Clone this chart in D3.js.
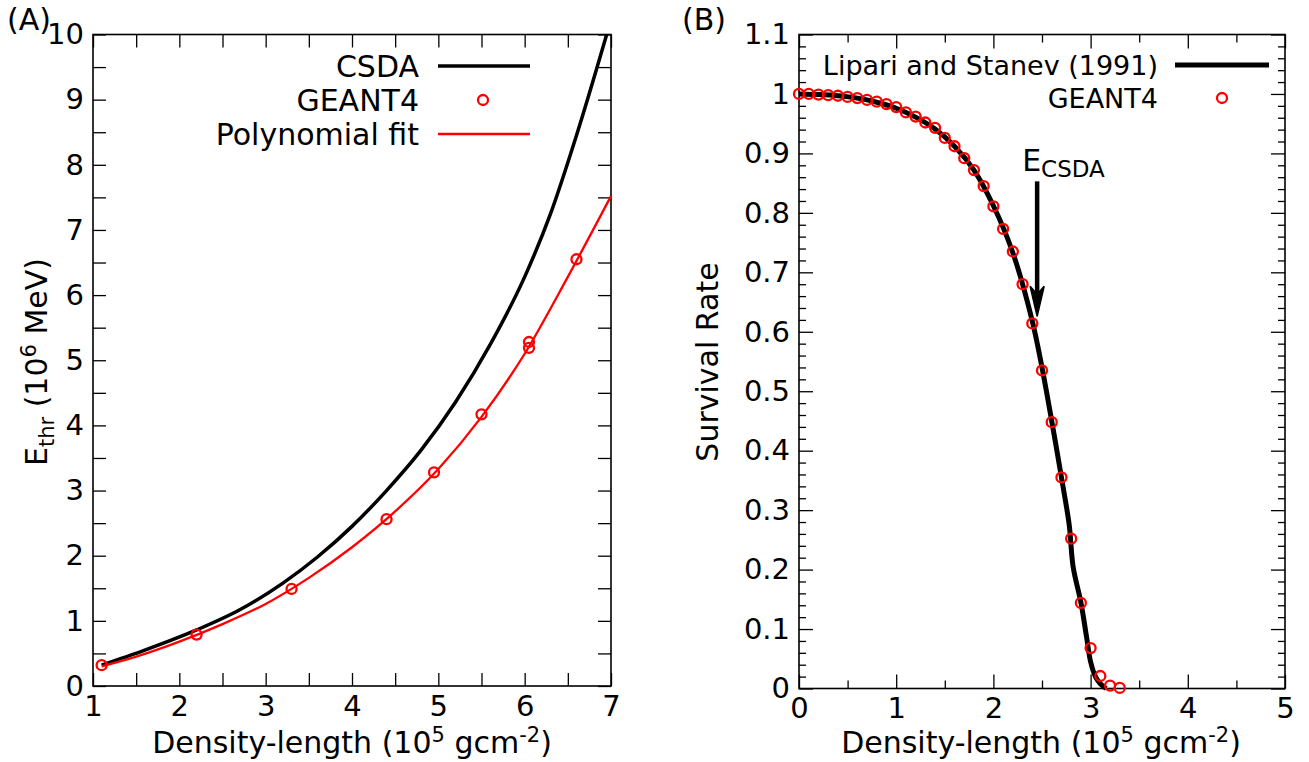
<!DOCTYPE html>
<html>
<head>
<meta charset="utf-8">
<script src="https://cdn.jsdelivr.net/npm/d3@7"></script>
<style>
  body { margin: 0; background: #fff; }
  text { font-family: "DejaVu Sans", sans-serif; fill: #000; }
</style>
</head>
<body>
<div id="chart"></div>
<script>
// ---- panel A data ----
const csdaX = [1.1, 1.6, 2.2, 2.7, 3.2, 3.6, 4.0, 4.4, 4.8, 5.2, 5.6, 6.0, 6.3, 6.6, 6.95];
const csdaY = [0.32, 0.55, 0.86, 1.17, 1.58, 1.98, 2.45, 3.0, 3.62, 4.36, 5.24, 6.28, 7.25, 8.45, 10.0];
const fitX = [1.1, 1.5, 2.0, 2.5, 3.0, 3.5, 4.0, 4.5, 5.0, 5.5, 6.0, 6.5, 7.0];
const fitY = [0.30, 0.45, 0.68, 0.95, 1.26, 1.66, 2.13, 2.68, 3.33, 4.13, 5.10, 6.28, 7.52];
const geantAX = [1.1, 2.2, 3.3, 4.4, 4.95, 5.5, 6.05, 6.05, 6.6];
const geantAY = [0.32, 0.79, 1.49, 2.56, 3.28, 4.17, 5.28, 5.19, 6.55];

// ---- panel B data ----
const lipariX = [0, 0.2, 0.4, 0.6, 0.8, 1.0, 1.2, 1.4, 1.6, 1.8, 2.0, 2.2, 2.4, 2.5, 2.6, 2.7, 2.78, 2.82, 2.9, 2.96, 3.0, 3.05, 3.1, 3.16];
const lipariY = [1.0, 0.999, 0.997, 0.993, 0.986, 0.976, 0.961, 0.941, 0.912, 0.872, 0.812, 0.733, 0.618, 0.540, 0.450, 0.355, 0.275, 0.205, 0.145, 0.085, 0.045, 0.020, 0.008, 0.0];
const geantBX = d3.range(34).map(i => +(i * 0.1).toFixed(1));
const geantBY = [1.000, 1.000, 0.999, 0.998, 0.997, 0.995, 0.993, 0.990, 0.987, 0.983,
                 0.978, 0.969, 0.962, 0.952, 0.943, 0.926, 0.912, 0.892, 0.872, 0.845,
                 0.811, 0.773, 0.735, 0.680, 0.614, 0.535, 0.448, 0.355, 0.252, 0.144,
                 0.068, 0.021, 0.005, 0.001];
const arrowX = 2.45, arrowFrom = 0.853, arrowTo = 0.626;

const svg = d3.select("#chart").append("svg")
    .attr("width", 1309)
    .attr("height", 762);

const tickFont = "29px", labelFont = "30px", supFont = "21px";

function frame(g, x, y, opt) {
    const [x0, x1] = x.range(), [y0, y1] = y.range();
    const w = x1 - x0, h = y0 - y1;
    // ticks on all four sides, pointing inward
    function side(axisFn, vals, size, fmt, tr) {
        const a = g.append("g").attr("transform", tr)
            .call(axisFn.tickValues(vals).tickSize(-size).tickPadding(opt.pad).tickFormat(fmt));
        a.select(".domain").remove();
        a.selectAll("line").attr("stroke", "#000").attr("stroke-width", 1.3);
        a.selectAll("text").style("font-size", tickFont).attr("fill", "#000");
        a.attr("font-family", null);
        return a;
    }
    const none = () => "";
    side(d3.axisBottom(x), opt.xMajor, opt.xMajorLen, opt.xFmt, `translate(0,${y0})`);
    side(d3.axisBottom(x), opt.xMinor, opt.xMinorLen, none, `translate(0,${y0})`);
    side(d3.axisTop(x), opt.xMajor, opt.xMajorLen, none, `translate(0,${y1})`);
    side(d3.axisTop(x), opt.xMinor, opt.xMinorLen, none, `translate(0,${y1})`);
    side(d3.axisLeft(y), opt.yMajor, opt.yMajorLen, opt.yFmt, `translate(${x0},0)`);
    side(d3.axisLeft(y), opt.yMinor, opt.yMinorLen, none, `translate(${x0},0)`);
    side(d3.axisRight(y), opt.yMajor, opt.yMajorLen, none, `translate(${x1},0)`);
    side(d3.axisRight(y), opt.yMinor, opt.yMinorLen, none, `translate(${x1},0)`);
    g.append("rect")
        .attr("x", x0).attr("y", y1).attr("width", w).attr("height", h)
        .attr("fill", "none").attr("stroke", "#000").attr("stroke-width", 1.6);
}

function xTitle(g, cx, yPos) {
    const t = g.append("text").attr("x", cx).attr("y", yPos)
        .attr("text-anchor", "middle").style("font-size", labelFont);
    t.append("tspan").text("Density-length (10");
    t.append("tspan").attr("dy", -11).style("font-size", supFont).text("5");
    t.append("tspan").attr("dy", 11).text(" gcm");
    t.append("tspan").attr("dy", -11).style("font-size", supFont).text("-2");
    t.append("tspan").attr("dy", 11).text(")");
}

// ================= Panel A =================
const xA = d3.scaleLinear().domain([1, 7]).range([93, 611]);
const yA = d3.scaleLinear().domain([0, 10]).range([686, 34.5]);
const gA = svg.append("g");

frame(gA, xA, yA, {
    xMajor: d3.range(1, 7.01, 1), xMinor: d3.range(1.5, 7, 1), xMajorLen: 13, xMinorLen: 13,
    yMajor: d3.range(0, 10.01, 1), yMinor: d3.range(0.5, 10, 1), yMajorLen: 13, yMinorLen: 13,
    xFmt: d3.format("d"), yFmt: d3.format("d"), pad: 9
});

const lineA = d3.line().x(d => xA(d[0])).y(d => yA(d[1])).curve(d3.curveMonotoneX);

gA.append("path")
    .datum(d3.zip(csdaX, csdaY))
    .attr("fill", "none").attr("stroke", "#000").attr("stroke-width", 3.5)
    .attr("d", lineA);

gA.append("path")
    .datum(d3.zip(fitX, fitY))
    .attr("fill", "none").attr("stroke", "#ff0000").attr("stroke-width", 2.3)
    .attr("d", lineA);

gA.selectAll("circle.geant")
    .data(d3.zip(geantAX, geantAY))
    .join("circle")
    .attr("class", "geant")
    .attr("cx", d => xA(d[0])).attr("cy", d => yA(d[1]))
    .attr("r", 5).attr("fill", "none").attr("stroke", "#ff0000").attr("stroke-width", 2.3);

// legend A
const legA = [
    {label: "CSDA", y: 66, kind: "line", color: "#000", w: 3.5},
    {label: "GEANT4", y: 100, kind: "dot", color: "#ff0000"},
    {label: "Polynomial fit", y: 134, kind: "line", color: "#ff0000", w: 2.3}
];
legA.forEach(d => {
    gA.append("text").attr("x", 419).attr("y", d.y).attr("dy", "0.36em")
        .attr("text-anchor", "end").style("font-size", labelFont).text(d.label);
    if (d.kind === "line") {
        gA.append("line").attr("x1", 438).attr("x2", 530).attr("y1", d.y).attr("y2", d.y)
            .attr("stroke", d.color).attr("stroke-width", d.w);
    } else {
        gA.append("circle").attr("cx", 483).attr("cy", d.y).attr("r", 5)
            .attr("fill", "none").attr("stroke", d.color).attr("stroke-width", 2.3);
    }
});

xTitle(gA, 352, 753);

const yTitleA = gA.append("text")
    .attr("transform", "translate(47,362) rotate(-90)")
    .attr("text-anchor", "middle").style("font-size", labelFont);
yTitleA.append("tspan").text("E");
yTitleA.append("tspan").attr("dy", 7).style("font-size", supFont).text("thr");
yTitleA.append("tspan").attr("dy", -7).text(" (10");
yTitleA.append("tspan").attr("dy", -11).style("font-size", supFont).text("6");
yTitleA.append("tspan").attr("dy", 11).text(" MeV)");

gA.append("text").attr("x", 7).attr("y", 30).style("font-size", labelFont).text("(A)");

// ================= Panel B =================
const xB = d3.scaleLinear().domain([0, 5]).range([799, 1285]);
const yB = d3.scaleLinear().domain([0, 1.1]).range([688.5, 34.5]);
const gB = svg.append("g");

frame(gB, xB, yB, {
    xMajor: d3.range(0, 5.01, 1), xMinor: d3.range(0.5, 5, 1), xMajorLen: 14, xMinorLen: 8,
    yMajor: d3.range(0, 1.101, 0.1).map(v => +v.toFixed(2)),
    yMinor: d3.range(0, 1.1, 0.02).map(v => +v.toFixed(2)).filter(v => Math.round(v * 100) % 10 !== 0),
    yMajorLen: 14, yMinorLen: 7,
    xFmt: d3.format("d"), yFmt: v => (v === 0 || v === 1) ? d3.format("d")(v) : d3.format(".1f")(v), pad: 9
});

gB.append("path")
    .datum(d3.zip(lipariX, lipariY))
    .attr("fill", "none").attr("stroke", "#000").attr("stroke-width", 5)
    .attr("stroke-linejoin", "round")
    .attr("d", d3.line().x(d => xB(d[0])).y(d => yB(d[1])).curve(d3.curveCatmullRom));

gB.selectAll("circle.geant")
    .data(d3.zip(geantBX, geantBY))
    .join("circle")
    .attr("class", "geant")
    .attr("cx", d => xB(d[0])).attr("cy", d => yB(d[1]))
    .attr("r", 5).attr("fill", "none").attr("stroke", "#ff0000").attr("stroke-width", 2.3);

// E_CSDA arrow
const ax = xB(arrowX), ay0 = yB(arrowFrom), ay1 = yB(arrowTo);
gB.append("line").attr("x1", ax).attr("x2", ax).attr("y1", ay0).attr("y2", ay1 - 20)
    .attr("stroke", "#000").attr("stroke-width", 4.5);
gB.append("path")
    .attr("d", `M${ax},${ay1} L${ax - 7},${ay1 - 30} L${ax},${ay1 - 22} L${ax + 7},${ay1 - 30} Z`)
    .attr("fill", "#000").attr("stroke", "#000").attr("stroke-width", 1.5);
const eLab = gB.append("text").attr("x", ax - 15).attr("y", ay0 - 10).style("font-size", labelFont);
eLab.append("tspan").text("E");
eLab.append("tspan").attr("dy", 6).style("font-size", "23px").text("CSDA");

// legend B
const legFontB = "27px";
gB.append("text").attr("x", 1158).attr("y", 65).attr("dy", "0.36em")
    .attr("text-anchor", "end").style("font-size", legFontB).text("Lipari and Stanev (1991)");
gB.append("line").attr("x1", 1175).attr("x2", 1269).attr("y1", 65).attr("y2", 65)
    .attr("stroke", "#000").attr("stroke-width", 5);
gB.append("text").attr("x", 1158).attr("y", 98).attr("dy", "0.36em")
    .attr("text-anchor", "end").style("font-size", legFontB).text("GEANT4");
gB.append("circle").attr("cx", 1222).attr("cy", 98).attr("r", 5)
    .attr("fill", "none").attr("stroke", "#ff0000").attr("stroke-width", 2.3);

xTitle(gB, 1041, 753);

gB.append("text")
    .attr("transform", "translate(718,362) rotate(-90)")
    .attr("text-anchor", "middle").style("font-size", labelFont).text("Survival Rate");

gB.append("text").attr("x", 682).attr("y", 30).style("font-size", labelFont).text("(B)");
</script>
</body>
</html>
